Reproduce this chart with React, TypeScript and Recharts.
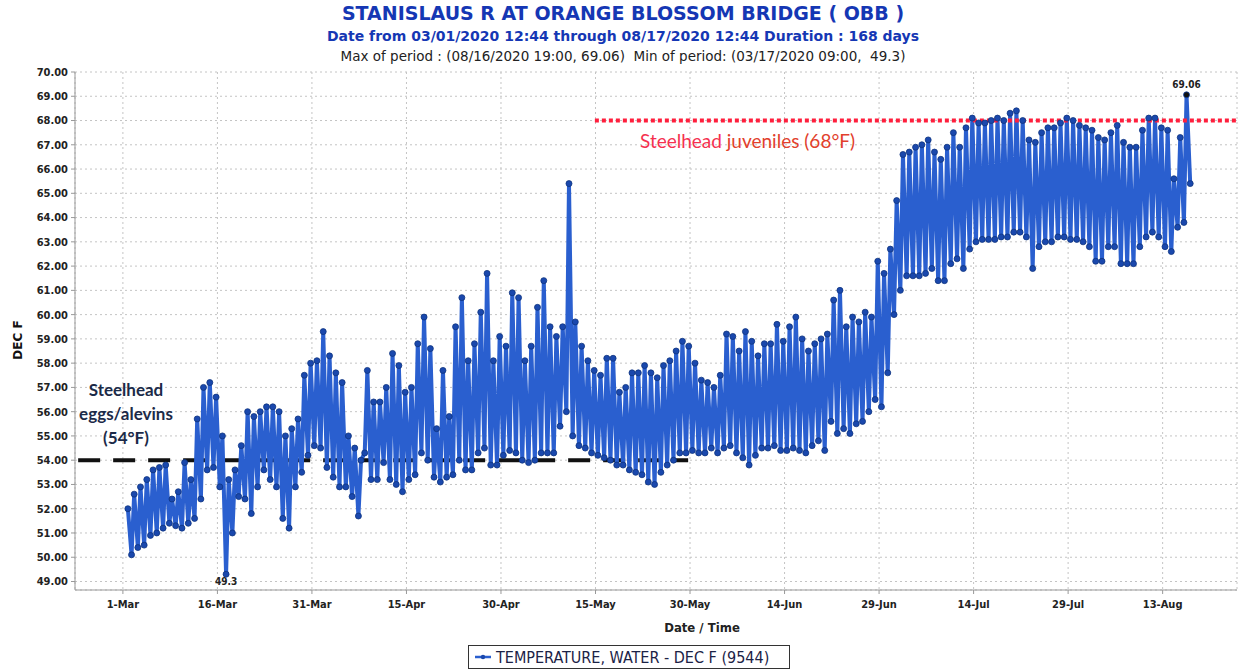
import React from 'react';
import { LineChart, Line, XAxis, YAxis, CartesianGrid, ReferenceLine, ReferenceDot } from 'recharts';

// Daily readings (deg F), day 0 = 1-Mar-2020
const dailyMax: (number | null)[] = [
  52.0, 52.6, 52.9, 53.2, 53.6, 53.7, 53.8, 52.4, 52.7, 53.9,
  53.2, 55.7, 57.0, 57.2, 56.6, 55.0, 53.2, 53.6, 54.6, 56.0,
  55.8, 56.0, 56.2, 56.2, 56.0, 55.0, 55.3, 55.7, 57.5, 58.0,
  58.1, 59.3, 58.3, 57.6, 57.2, 55.0, 54.5, 54.0, 57.7, 56.4,
  56.4, 57.0, 58.4, 57.9, 56.8, 57.0, 58.8, 59.9, 58.6, 55.3,
  57.7, 55.8, 59.5, 60.7, 58.1, 58.8, 60.1, 61.7, 58.1, 59.1,
  58.7, 60.9, 60.7, 58.1, 58.7, 60.3, 61.4, 59.5, 59.1, 59.5,
  65.4, 59.7, 58.7, 58.1, 57.7, 57.5, 58.2, 58.2, 56.8, 57.0,
  57.6, 57.6, 57.9, 57.6, 57.4, 57.9, 58.1, 58.5, 58.9, 58.7,
  58.0, 57.3, 57.2, 57.0, 57.5, 59.2, 59.1, 58.5, 59.3, 58.9,
  58.3, 58.8, 58.8, 59.6, 58.9, 59.5, 59.9, 59.0, 58.5, 58.8,
  59.0, 59.2, 60.6, 61.0, 59.5, 59.9, 59.7, 60.1, 59.9, 62.2,
  61.7, 62.7, 64.7, 66.6, 66.7, 66.9, 67.0, 67.2, 66.7, 66.4,
  66.9, 67.5, 66.9, 67.7, 68.1, 67.9, 67.9, 68.0, 68.1, 68.0,
  68.3, 68.4, 68.0, 67.2, 67.1, 67.5, 67.7, 67.7, 67.9, 68.1,
  68.0, 67.8, 67.7, 67.6, 67.3, 67.2, 67.5, 67.8, 67.1, 66.9,
  66.9, 67.6, 68.1, 68.1, 67.7, 67.6, 65.6, 67.3, 69.06, null,
];

const dailyMin: (number | null)[] = [
  null, 50.1, 50.4, 50.5, 50.9, 51.0, 51.2, 51.4, 51.3, 51.2,
  51.4, 51.6, 52.4, 53.6, 53.7, 52.9, 49.3, 51.0, 52.5, 52.4,
  51.8, 52.9, 53.6, 53.2, 52.9, 51.6, 51.2, 52.9, 53.5, 54.2,
  54.6, 54.5, 53.7, 53.3, 52.9, 52.9, 52.5, 51.7, 54.3, 53.2,
  53.2, 53.9, 53.2, 53.0, 52.7, 53.2, 53.4, 54.3, 54.0, 53.3,
  53.1, 53.3, 53.4, 54.0, 53.6, 53.6, 54.3, 54.5, 53.8, 53.8,
  54.2, 54.4, 54.3, 54.0, 53.9, 54.0, 54.3, 54.3, 54.3, 55.4,
  56.0, 55.0, 54.6, 54.5, 54.3, 54.2, 54.1, 54.0, 53.8, 53.8,
  53.6, 53.5, 53.4, 53.1, 53.0, 53.5, 53.8, 54.0, 54.3, 54.3,
  54.4, 54.3, 54.3, 54.5, 54.3, 54.5, 54.6, 54.3, 54.1, 53.8,
  54.2, 54.5, 54.5, 54.6, 54.4, 54.4, 54.5, 54.4, 54.3, 54.6,
  54.8, 54.4, 55.6, 55.1, 55.3, 55.1, 55.5, 55.6, 56.0, 56.5,
  56.2, 57.6, 60.0, 61.0, 61.6, 61.6, 61.6, 61.7, 61.9, 61.4,
  61.4, 62.1, 62.3, 61.9, 62.7, 63.0, 63.1, 63.1, 63.1, 63.2,
  63.2, 63.4, 63.4, 63.2, 61.9, 62.8, 63.0, 63.0, 63.2, 63.2,
  63.1, 63.1, 63.0, 62.8, 62.2, 62.2, 62.8, 62.8, 62.1, 62.1,
  62.1, 62.8, 63.2, 63.4, 63.2, 62.8, 62.6, 63.6, 63.8, 65.4,
];

const MIN_HOUR = 9;
const MAX_HOUR = 19;

const xTickDays = [0, 15, 30, 45, 60, 75, 90, 105, 120, 135, 150, 165];
const xTickLabels = ['1-Mar', '16-Mar', '31-Mar', '15-Apr', '30-Apr', '15-May', '30-May', '14-Jun', '29-Jun', '14-Jul', '29-Jul', '13-Aug'];
const yTicks = [49, 50, 51, 52, 53, 54, 55, 56, 57, 58, 59, 60, 61, 62, 63, 64, 65, 66, 67, 68, 69, 70];

const eggsThreshold = 54;
const eggsSpan = [-7.1, 89.7];
const juvenileThreshold = 68;
const juvenileSpan = [74.9, 176.8];
const minPoint = { t: 16 + 9 / 24, v: 49.3 };
const maxPoint = { t: 168 + 19 / 24, v: 69.06 };

const data: { t: number; v: number }[] = [];
for (let i = 0; i < dailyMax.length; i++) {
  const mn = dailyMin[i];
  const mx = dailyMax[i];
  if (mn != null) data.push({ t: i + MIN_HOUR / 24, v: mn });
  if (mx != null) data.push({ t: i + MAX_HOUR / 24, v: mx });
}

const FONT = '"DejaVu Sans", sans-serif';
const FONT_C = '"DejaVu Sans Condensed", "DejaVu Sans", sans-serif';

export default function App() {
  return (
    <div style={{ position: 'absolute', left: 0, top: 0, width: 1246, height: 672, background: '#fff', overflow: 'hidden' }}>
      <LineChart width={1246} height={672} data={data} margin={{ top: 72, right: 9, bottom: 52, left: 15 }}>
        <CartesianGrid stroke="#c4c4c4" strokeDasharray="2 3" />
        <XAxis
          type="number"
          dataKey="t"
          domain={[-7.6, 176.8]}
          ticks={xTickDays}
          allowDataOverflow
          tickFormatter={(v: number) => xTickLabels[xTickDays.indexOf(v)] ?? ''}
          height={30}
          stroke="#999"
          tickSize={4}
          tickMargin={6}
          tick={{ fill: '#222', fontSize: 11, fontWeight: 700, fontFamily: FONT_C }}
        />
        <YAxis
          type="number"
          domain={[48.65, 70]}
          ticks={yTicks}
          allowDataOverflow
          tickFormatter={(v: number) => v.toFixed(2)}
          width={60}
          stroke="#999"
          tickSize={4}
          tickMargin={3}
          tick={{ fill: '#222', fontSize: 11, fontWeight: 700, fontFamily: FONT_C }}
        />
        <ReferenceLine
          segment={[{ x: eggsSpan[0], y: eggsThreshold }, { x: eggsSpan[1], y: eggsThreshold }]}
          stroke="#111"
          strokeWidth={4}
          strokeDasharray="22 13"
          ifOverflow="visible"
        />
        <Line
          type="linear"
          dataKey="v"
          stroke="#2a5fcf"
          strokeWidth={4}
          dot={{ r: 3, fill: '#1a48ad', stroke: '#0e347f', strokeWidth: 0.8 }}
          isAnimationActive={false}
        />
        <ReferenceLine
          segment={[{ x: juvenileSpan[0], y: juvenileThreshold }, { x: juvenileSpan[1], y: juvenileThreshold }]}
          stroke="#ff1f3d"
          strokeWidth={4}
          strokeDasharray="4 3"
          ifOverflow="visible"
        />
        <ReferenceDot
          x={minPoint.t}
          y={minPoint.v}
          r={0}
          ifOverflow="visible"
          label={{ value: '49.3', position: 'bottom', offset: 4, fill: '#222', fontSize: 10, fontFamily: FONT_C, fontWeight: 700 }}
        />
        <ReferenceDot
          x={maxPoint.t}
          y={maxPoint.v}
          r={2.5}
          fill="#111"
          stroke="none"
          ifOverflow="visible"
          label={{ value: '69.06', position: 'top', offset: 4, fill: '#222', fontSize: 10, fontFamily: FONT_C, fontWeight: 700 }}
        />
      </LineChart>

      {/* Titles */}
      <div style={{ position: 'absolute', left: 0, width: 1246, top: 2, textAlign: 'center', fontFamily: FONT, fontWeight: 700, fontSize: 19, color: '#1537b4' }}>
        STANISLAUS R AT ORANGE BLOSSOM BRIDGE ( OBB )
      </div>
      <div style={{ position: 'absolute', left: 0, width: 1246, top: 28, textAlign: 'center', fontFamily: FONT, fontWeight: 700, fontSize: 14, color: '#1537b4' }}>
        Date from 03/01/2020 12:44 through 08/17/2020 12:44 Duration : 168 days
      </div>
      <div style={{ position: 'absolute', left: 0, width: 1246, top: 48, textAlign: 'center', fontFamily: FONT, fontSize: 13.5, color: '#222', whiteSpace: 'pre' }}>
        {'Max of period : (08/16/2020 19:00, 69.06)  Min of period: (03/17/2020 09:00,  49.3)'}
      </div>

      {/* Axis titles */}
      <div style={{ position: 'absolute', left: 18, top: 340, transform: 'translate(-50%, -50%) rotate(-90deg)', fontFamily: FONT, fontWeight: 700, fontSize: 12, color: '#111', whiteSpace: 'nowrap' }}>
        DEC F
      </div>
      <div style={{ position: 'absolute', left: 702, top: 627, transform: 'translate(-50%, -50%)', fontFamily: FONT_C, fontWeight: 700, fontSize: 13, color: '#222', whiteSpace: 'nowrap' }}>
        Date / Time
      </div>

      {/* Threshold annotations */}
      <div style={{ position: 'absolute', left: 126, top: 378, transform: 'translateX(-50%)', textAlign: 'center', fontFamily: 'Lato, sans-serif', fontWeight: 700, fontSize: 17, lineHeight: '24px', color: '#1b2a48', whiteSpace: 'nowrap' }}>
        Steelhead<br />eggs/alevins<br />(54°F)
      </div>
      <div style={{ position: 'absolute', left: 640, top: 129, fontFamily: 'Lato, sans-serif', fontSize: 19, whiteSpace: 'nowrap' }}>
        <span style={{ color: '#f5304f' }}>Steelhead</span>{' '}
        <span style={{ color: '#e2402c' }}>juveniles (68°F)</span>
      </div>

      {/* Legend */}
      <div style={{ position: 'absolute', left: 468, top: 645, width: 322, height: 24, border: '1.5px solid #333', boxSizing: 'border-box', display: 'flex', alignItems: 'center', paddingLeft: 6, fontFamily: FONT_C, fontSize: 16, color: '#1b2246', whiteSpace: 'nowrap' }}>
        <svg width={16} height={10} style={{ marginRight: 5 }}>
          <line x1={0} y1={5} x2={16} y2={5} stroke="#2a5fcf" strokeWidth={2.5} />
          <circle cx={8} cy={5} r={2.2} fill="#1a48ad" />
        </svg>
        TEMPERATURE, WATER - DEC F (9544)
      </div>
    </div>
  );
}
